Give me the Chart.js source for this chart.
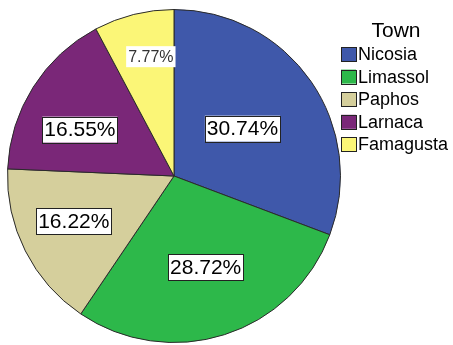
<!DOCTYPE html>
<html>
<head>
<meta charset="utf-8">
<script src="https://cdn.jsdelivr.net/npm/chart.js@4"></script>
<style>
  html, body { margin: 0; padding: 0; background: #fff; }
  #wrap { width: 453px; height: 345px; }
</style>
</head>
<body>
<div id="wrap"><canvas id="pie"></canvas></div>
<script>
const towns = ["Nicosia", "Limassol", "Paphos", "Larnaca", "Famagusta"];
const shares = [30.74, 28.72, 16.22, 16.55, 7.77];
const colors = ["#3f58aa", "#2db84a", "#d5cf9c", "#7a2778", "#fbf677"];
const legendTitle = "Town";

// where each percentage box sits inside its slice (fraction of radius, degree shift)
const labelRadius = [0.5, 0.58, 0.66, 0.63, 0.73];
const labelShift = [0, -1.5, 2.5, -6, 3];
const labelFont = [21, 21, 21, 21, 16];

const pctLabels = {
  id: "pctLabels",
  afterDatasetsDraw(chart) {
    const ctx = chart.ctx;
    const arcs = chart.getDatasetMeta(0).data;
    arcs.forEach((arc, i) => {
      const p = arc.getProps(["x", "y", "startAngle", "endAngle", "outerRadius"], true);
      const a = (p.startAngle + p.endAngle) / 2 + labelShift[i] * Math.PI / 180;
      const r = p.outerRadius * labelRadius[i];
      const cx = p.x + Math.cos(a) * r;
      const cy = p.y + Math.sin(a) * r;
      const txt = shares[i].toFixed(2) + "%";
      ctx.save();
      ctx.font = labelFont[i] + "px 'Liberation Sans', Arial, sans-serif";
      const w = ctx.measureText(txt).width + 4;
      const h = labelFont[i] + 5;
      ctx.fillStyle = "#fff";
      ctx.fillRect(cx - w / 2, cy - h / 2, w, h);
      if (labelFont[i] > 18) {
        ctx.strokeStyle = "#222";
        ctx.lineWidth = 1;
        ctx.strokeRect(Math.round(cx - w / 2) + 0.5, Math.round(cy - h / 2) + 0.5, Math.round(w), Math.round(h));
      }
      ctx.fillStyle = labelFont[i] > 18 ? "#000" : "#333";
      ctx.textAlign = "center";
      ctx.textBaseline = "middle";
      ctx.fillText(txt, cx, cy + 1);
      ctx.restore();
    });
  }
};

const sideLegend = {
  id: "sideLegend",
  afterDraw(chart) {
    const ctx = chart.ctx;
    ctx.save();
    ctx.fillStyle = "#000";
    ctx.textBaseline = "middle";
    ctx.textAlign = "center";
    ctx.font = "21px 'Liberation Sans', Arial, sans-serif";
    ctx.fillText(legendTitle, 396, 31);
    ctx.textAlign = "left";
    ctx.font = "18px 'Liberation Sans', Arial, sans-serif";
    towns.forEach((t, i) => {
      const y = 54 + i * 22.6;
      ctx.fillStyle = colors[i];
      ctx.fillRect(341, y - 7, 15, 14);
      ctx.strokeStyle = "#222";
      ctx.lineWidth = 1;
      ctx.strokeRect(341.5, Math.round(y - 7) + 0.5, 15, 14);
      ctx.fillStyle = "#000";
      ctx.fillText(t, 358, y + 1);
    });
    ctx.restore();
  }
};

new Chart(document.getElementById("pie"), {
  type: "pie",
  data: {
    labels: towns,
    datasets: [{
      data: shares,
      backgroundColor: colors,
      borderColor: "#2a2a2a",
      borderWidth: 1
    }]
  },
  options: {
    responsive: true,
    maintainAspectRatio: false,
    animation: false,
    layout: { padding: { left: 7, right: 112, top: 9, bottom: 2 } },
    plugins: {
      legend: { display: false },
      tooltip: { enabled: false }
    }
  },
  plugins: [pctLabels, sideLegend]
});
</script>
</body>
</html>
